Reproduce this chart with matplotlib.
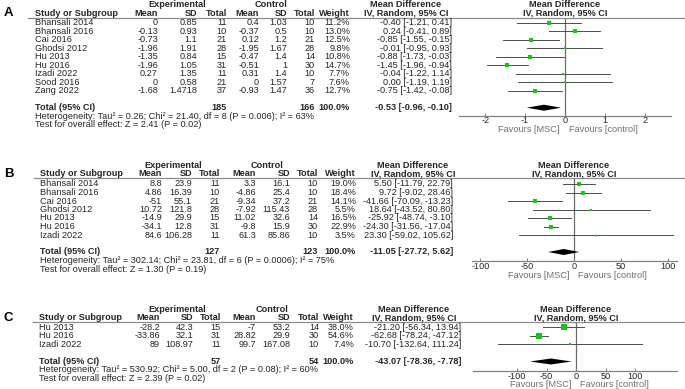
import matplotlib
matplotlib.use("Agg")
import matplotlib.pyplot as plt
from matplotlib.lines import Line2D

# ---- panel A data ----
studies_a = ["Bhansali 2014", "Bhansali 2016", "Cai 2016", "Ghodsi 2012", "Hu 2013",
             "Hu 2016", "Izadi 2022", "Sood 2016", "Zang 2022"]
exp_mean_a = [0, -0.13, -0.73, -1.96, -1.35, -1.96, 0.27, 0, -1.68]
exp_sd_a = [0.85, 0.93, 1.1, 1.91, 0.84, 1.05, 1.35, 0.58, 1.4718]
exp_n_a = [11, 10, 21, 28, 15, 31, 11, 21, 37]
ctl_mean_a = [0.4, -0.37, 0.12, -1.95, -0.47, -0.51, 0.31, 0, -0.93]
ctl_sd_a = [1.03, 0.5, 1.2, 1.67, 1.4, 1, 1.4, 1.57, 1.47]
ctl_n_a = [10, 10, 21, 28, 14, 30, 10, 7, 36]
weight_a = [11.2, 13.0, 12.5, 9.8, 10.8, 14.7, 7.7, 7.6, 12.7]
md_a = [-0.40, 0.24, -0.85, -0.01, -0.88, -1.45, -0.04, 0.00, -0.75]
lo_a = [-1.21, -0.41, -1.55, -0.95, -1.73, -1.96, -1.22, -1.19, -1.42]
hi_a = [0.41, 0.89, -0.15, 0.93, -0.03, -0.94, 1.14, 1.19, -0.08]
total_a = [185, 166, -0.53, -0.96, -0.10]
het_a = "Heterogeneity: Tau\u00b2 = 0.26; Chi\u00b2 = 21.40, df = 8 (P = 0.006); I\u00b2 = 63%"
test_a = "Test for overall effect: Z = 2.41 (P = 0.02)"
ticks_a = [-2, -1, 0, 1, 2]

# ---- panel B data ----
studies_b = ["Bhansali 2014", "Bhansali 2016", "Cai 2016", "Ghodsi 2012", "Hu 2013",
             "Hu 2016", "Izadi 2022"]
exp_mean_b = [8.8, 4.86, -51, 10.72, -14.9, -34.1, 84.6]
exp_sd_b = [23.9, 16.39, 55.1, 121.8, 29.9, 12.8, 106.28]
exp_n_b = [11, 10, 21, 28, 15, 31, 11]
ctl_mean_b = [3.3, -4.86, -9.34, -7.92, 11.02, -9.8, 61.3]
ctl_sd_b = [16.1, 25.4, 37.2, 115.43, 32.6, 15.9, 85.86]
ctl_n_b = [10, 10, 21, 28, 14, 30, 10]
weight_b = [19.0, 18.4, 14.1, 5.5, 16.5, 22.9, 3.5]
md_b = [5.50, 9.72, -41.66, 18.64, -25.92, -24.30, 23.30]
lo_b = [-11.79, -9.02, -70.09, -43.52, -48.74, -31.56, -59.02]
hi_b = [22.79, 28.46, -13.23, 80.80, -3.10, -17.04, 105.62]
total_b = [127, 123, -11.05, -27.72, 5.62]
het_b = "Heterogeneity: Tau\u00b2 = 302.14; Chi\u00b2 = 23.81, df = 6 (P = 0.0006); I\u00b2 = 75%"
test_b = "Test for overall effect: Z = 1.30 (P = 0.19)"
ticks_b = [-100, -50, 0, 50, 100]

# ---- panel C data ----
studies_c = ["Hu 2013", "Hu 2016", "Izadi 2022"]
exp_mean_c = [-28.2, -33.86, 89]
exp_sd_c = [42.3, 32.1, 108.97]
exp_n_c = [15, 31, 11]
ctl_mean_c = [-7, 28.82, 99.7]
ctl_sd_c = [53.2, 29.9, 167.08]
ctl_n_c = [14, 30, 10]
weight_c = [38.0, 54.6, 7.4]
md_c = [-21.20, -62.68, -10.70]
lo_c = [-56.34, -78.24, -132.64]
hi_c = [13.94, -47.12, 111.24]
total_c = [57, 54, -43.07, -78.36, -7.78]
het_c = "Heterogeneity: Tau\u00b2 = 530.92; Chi\u00b2 = 5.00, df = 2 (P = 0.08); I\u00b2 = 60%"
test_c = "Test for overall effect: Z = 2.39 (P = 0.02)"
ticks_c = [-100, -50, 0, 50, 100]

W, H = 685, 389
FS = 6.6
TXT = '#262626'
plt.rcParams['font.family'] = ['Liberation Sans', 'DejaVu Sans']
plt.rcParams['axes.unicode_minus'] = False


def fx(x):
    return x / W


def fy(y):
    return 1 - y / H


def put(fig, x, y, s, ha='left', bold=False, color=TXT, size=FS):
    fig.text(fx(x), fy(y), s, ha=ha, va='center', fontsize=size, color=color,
             fontweight='bold' if bold else 'normal')


def draw_panel(fig, label, studies, em, esd, en, cm, csd, cn, wt, md, lo, hi,
               total, het, test, ticks, lay):
    c = lay['cols']
    n = len(studies)
    rows = [lay['y_first'] + i * lay['row_h'] for i in range(n)]
    y_tot = lay['y_first'] + (n + 1) * lay['row_h']

    # headers
    put(fig, 4, lay['y_sub'], label, bold=True, color='black', size=9.5)
    put(fig, c['exp'], lay['y_top'], "Experimental", ha='center', bold=True)
    put(fig, c['ctl'], lay['y_top'], "Control", ha='center', bold=True)
    put(fig, c['mdc'], lay['y_top'], "Mean Difference", ha='center', bold=True)
    put(fig, lay['zero'], lay['y_top'], "Mean Difference", ha='center', bold=True)
    put(fig, c['name'], lay['y_sub'], "Study or Subgroup", bold=True)
    for key, s in [('em', 'Mean'), ('esd', 'SD'), ('en', 'Total'), ('cm', 'Mean'),
                   ('csd', 'SD'), ('cn', 'Total'), ('wt', 'Weight')]:
        put(fig, c[key], lay['y_sub'], s, ha='right', bold=True)
    put(fig, c['mdc'], lay['y_sub'], "IV, Random, 95% CI", ha='center', bold=True)
    put(fig, lay['zero'], lay['y_sub'], "IV, Random, 95% CI", ha='center', bold=True)
    fig.add_artist(Line2D([fx(lay['line_x0']), 1.0], [fy(lay['y_line'])] * 2,
                          color='#8c8c8c', lw=0.9))

    # study rows
    for i, y in enumerate(rows):
        put(fig, c['name'], y, studies[i])
        put(fig, c['em'], y, f"{em[i]:g}", ha='right')
        put(fig, c['esd'], y, f"{esd[i]:g}", ha='right')
        put(fig, c['en'], y, f"{en[i]}", ha='right')
        put(fig, c['cm'], y, f"{cm[i]:g}", ha='right')
        put(fig, c['csd'], y, f"{csd[i]:g}", ha='right')
        put(fig, c['cn'], y, f"{cn[i]}", ha='right')
        put(fig, c['wt'], y, f"{wt[i]:.1f}%", ha='right')
        put(fig, c['mdr'], y, f"{md[i]:.2f} [{lo[i]:.2f}, {hi[i]:.2f}]", ha='right')

    # totals
    put(fig, c['name'], y_tot, "Total (95% CI)", bold=True)
    put(fig, c['en'], y_tot, f"{total[0]}", ha='right', bold=True)
    put(fig, c['cn'], y_tot, f"{total[1]}", ha='right', bold=True)
    put(fig, c['wt'], y_tot, "100.0%", ha='right', bold=True)
    put(fig, c['mdr'], y_tot, f"{total[2]:.2f} [{total[3]:.2f}, {total[4]:.2f}]",
        ha='right', bold=True)
    put(fig, c['name'], y_tot + lay['row_h'], het)
    put(fig, c['name'], y_tot + 2 * lay['row_h'], test)

    # forest plot
    x0, x1 = lay['px']
    ax = fig.add_axes([fx(x0), fy(lay['axis_y']), (x1 - x0) / W,
                       (lay['axis_y'] - lay['y_line']) / H])
    ax.set_xlim(*lay['xlim'])
    ax.set_ylim(lay['axis_y'], lay['y_line'])
    ax.patch.set_alpha(0)
    for s in ['top', 'left', 'right']:
        ax.spines[s].set_visible(False)
    ax.spines['bottom'].set_color('#808080')
    ax.spines['bottom'].set_linewidth(0.9)
    ax.set_yticks([])
    ax.set_xticks(ticks)
    ax.set_xticklabels([f"{t:g}" for t in ticks])
    ax.tick_params(axis='x', direction='in', length=2.5, width=0.7, pad=0.4,
                   labelsize=FS, colors='#808080', labelcolor=TXT)
    ax.axvline(0, color='#6a6a6a', lw=0.9, zorder=1)
    for i, y in enumerate(rows):
        ax.plot([lo[i], hi[i]], [y, y], color='#4d4d4d', lw=0.7, zorder=2)
        ax.plot(md[i], y, marker='s', color='#18c418', markersize=0.68 * wt[i] ** 0.5,
                markeredgewidth=0, zorder=3)
    h = 3.0
    ax.fill([total[3], total[2], total[4], total[2]],
            [y_tot, y_tot - h, y_tot, y_tot + h], color='black', zorder=3, lw=0)

    put(fig, lay['zero'] - 5, lay['fav_y'], "Favours [MSC]", ha='right', color='#707070')
    put(fig, lay['zero'] + 4, lay['fav_y'], "Favours [control]", color='#707070')


fig = plt.figure(figsize=(W / 100, H / 100), dpi=100)

lay_a = dict(y_top=4.5, y_sub=13.3, y_line=17.5, y_first=22.7, row_h=8.5,
             axis_y=115.7, fav_y=129.5, line_x0=28, zero=565,
             px=(459, 671), xlim=(-2.66, 2.66),
             cols=dict(name=35, em=158, esd=197, en=227, cm=259, csd=287, cn=315,
                       wt=350, mdr=452, mdc=406, exp=177, ctl=271))
lay_b = dict(y_top=166, y_sub=174, y_line=178, y_first=184, row_h=8.5,
             axis_y=261, fav_y=275, line_x0=34, zero=574,
             px=(472, 677), xlim=(-109, 110),
             cols=dict(name=40, em=162, esd=192, en=220, cm=256, csd=290, cn=318,
                       wt=356, mdr=453, mdc=413, exp=173, ctl=267))
lay_c = dict(y_top=309.5, y_sub=318, y_line=322, y_first=327.5, row_h=8.5,
             axis_y=371, fav_y=384.5, line_x0=33, zero=576,
             px=(473, 677), xlim=(-175, 171),
             cols=dict(name=39, em=160, esd=193, en=221, cm=256, csd=290, cn=319,
                       wt=354, mdr=461, mdc=414, exp=177, ctl=272))

draw_panel(fig, "A", studies_a, exp_mean_a, exp_sd_a, exp_n_a, ctl_mean_a, ctl_sd_a,
           ctl_n_a, weight_a, md_a, lo_a, hi_a, total_a, het_a, test_a, ticks_a, lay_a)
draw_panel(fig, "B", studies_b, exp_mean_b, exp_sd_b, exp_n_b, ctl_mean_b, ctl_sd_b,
           ctl_n_b, weight_b, md_b, lo_b, hi_b, total_b, het_b, test_b, ticks_b, lay_b)
draw_panel(fig, "C", studies_c, exp_mean_c, exp_sd_c, exp_n_c, ctl_mean_c, ctl_sd_c,
           ctl_n_c, weight_c, md_c, lo_c, hi_c, total_c, het_c, test_c, ticks_c, lay_c)

fig.savefig("out.png", dpi=100, facecolor='white')
